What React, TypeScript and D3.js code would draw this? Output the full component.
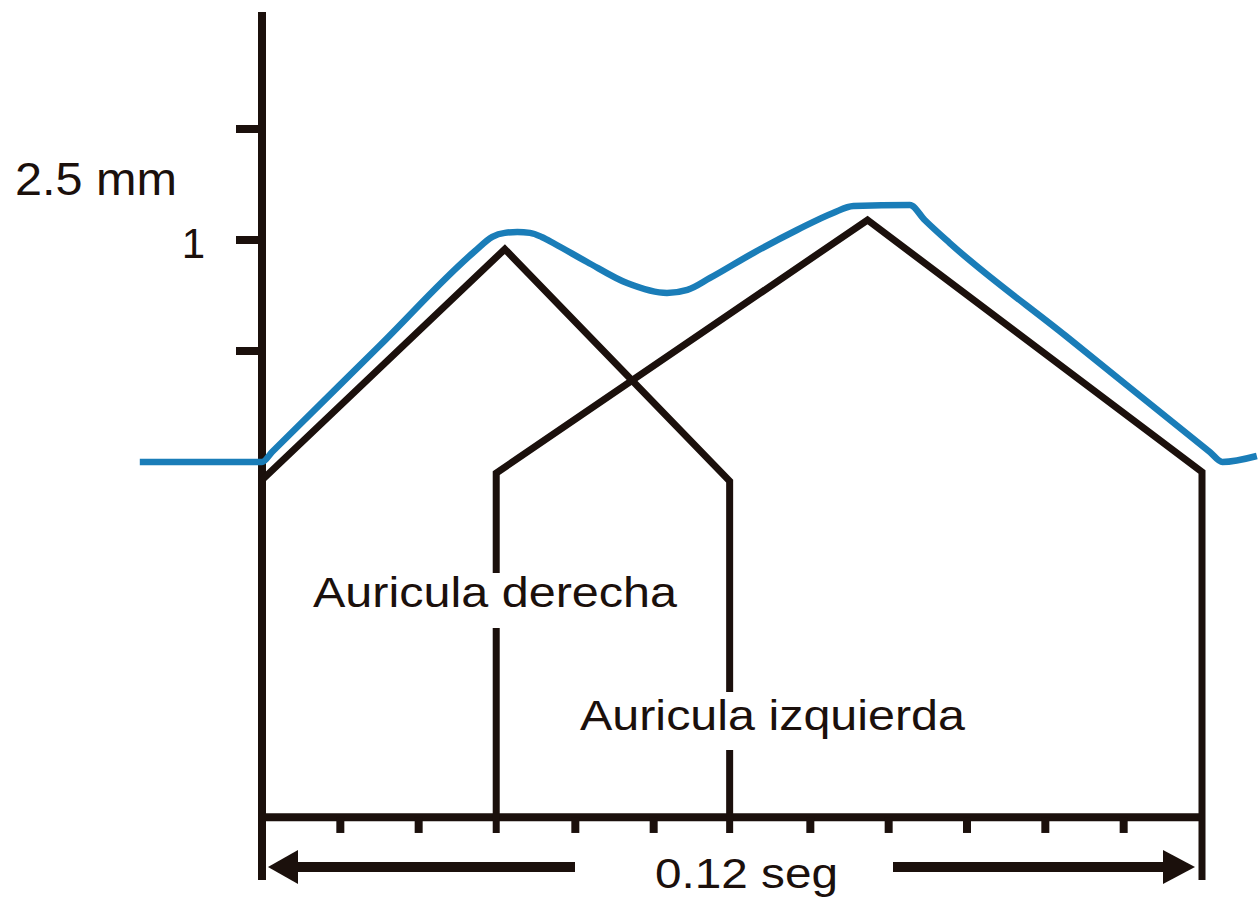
import React from "react";
import * as d3 from "d3";

// time in seconds (0 .. 0.12), amplitude in mm-units (baseline = 0)
const xTicks = [0.01, 0.02, 0.04, 0.05, 0.07, 0.08, 0.09, 0.1, 0.11];
const yTicks = [0.5, 1, 1.5];

const raT = [0, 0.031, 0.0597, 0.0597];
const raV = [-0.081, 0.959, -0.086, -1.671];

const laT = [0.0299, 0.0299, 0.0773, 0.12, 0.12];
const laV = [-1.671, -0.05, 1.09, -0.045, -1.883];

const sumT = [-0.0156, 0, 0.00128, 0.0151, 0.0272, 0.0294, 0.031, 0.0326, 0.0342, 0.0357, 0.0374, 0.0415, 0.0466, 0.0517, 0.0543, 0.0572, 0.0627, 0.0683, 0.0729, 0.0755, 0.0827, 0.0846, 0.0878, 0.1026, 0.1210, 0.1226, 0.1270];
const sumV = [0, 0, 0.045, 0.527, 0.95, 1.014, 1.032, 1.036, 1.032, 1.014, 0.982, 0.901, 0.806, 0.761, 0.775, 0.829, 0.941, 1.045, 1.122, 1.153, 1.158, 1.09, 0.986, 0.568, 0.045, 0, 0.027];

const yLabelTop = "2.5 mm";
const yLabelOne = "1";
const raLabel = "Auricula derecha";
const laLabel = "Auricula izquierda";
const xLabel = "0.12 seg";

const W = 1259;
const H = 908;
const INK = "#1b100c";
const BLUE = "#1a7db8";
const FONT = "Arial, 'Liberation Sans', Helvetica, sans-serif";

export default function App() {
  const x = d3.scaleLinear().domain([0, 0.12]).range([262, 1202]);
  const y = d3.scaleLinear().domain([0, 1]).range([462, 240]);

  const line = d3
    .line<[number, number]>()
    .x((d) => x(d[0]))
    .y((d) => y(d[1]));
  const smooth = d3
    .line<[number, number]>()
    .x((d) => x(d[0]))
    .y((d) => y(d[1]))
    .curve(d3.curveMonotoneX);

  const ra = raT.map((t, i) => [t, raV[i]] as [number, number]);
  const la = laT.map((t, i) => [t, laV[i]] as [number, number]);
  const sum = sumT.map((t, i) => [t, sumV[i]] as [number, number]);

  const axisTop = y(2.027);
  const axisBottom = y(-1.883);
  const baseY = y(-1.6);
  const tickEnd = y(-1.671);
  const arrowY = y(-1.824);

  const x0 = x(0);
  const x1 = x(0.12);

  return (
    <svg
      width={W}
      height={H}
      style={{ position: "absolute", left: 0, top: 0, display: "block", background: "#fff" }}
    >
      <rect x={0} y={0} width={W} height={H} fill="#fff" />
      {/* vertical axis */}
      <line x1={x0} y1={axisTop} x2={x0} y2={axisBottom} stroke={INK} strokeWidth={8} />
      {yTicks.map((v) => (
        <line key={v} x1={x0 - 26} x2={x0} y1={y(v)} y2={y(v)} stroke={INK} strokeWidth={8} />
      ))}
      {/* horizontal axis */}
      <line x1={x0} y1={baseY} x2={x1} y2={baseY} stroke={INK} strokeWidth={8} />
      {xTicks.map((t) => (
        <line key={t} x1={x(t)} x2={x(t)} y1={baseY} y2={tickEnd} stroke={INK} strokeWidth={8} />
      ))}

      {/* atrial components */}
      <path d={line(ra) || ""} fill="none" stroke={INK} strokeWidth={7} strokeLinejoin="miter" />
      <path d={line(la) || ""} fill="none" stroke={INK} strokeWidth={7} strokeLinejoin="miter" />

      {/* summed P wave */}
      <path d={smooth(sum) || ""} fill="none" stroke={BLUE} strokeWidth={6.5} strokeLinejoin="round" />

      {/* labels with white backing */}
      <rect x={x(0.0299) - 10} y={573} width={20} height={55} fill="#fff" />
      <text x={313} y={607} fontFamily={FONT} fontSize={42} fill={INK} textLength={364} lengthAdjust="spacingAndGlyphs">
        {raLabel}
      </text>
      <rect x={x(0.0597) - 10} y={692} width={20} height={58} fill="#fff" />
      <text x={580} y={730} fontFamily={FONT} fontSize={42} fill={INK} textLength={385} lengthAdjust="spacingAndGlyphs">
        {laLabel}
      </text>

      <text x={15} y={195} fontFamily={FONT} fontSize={46} fill={INK} textLength={162} lengthAdjust="spacingAndGlyphs">
        {yLabelTop}
      </text>
      <text x={205} y={258} fontFamily={FONT} fontSize={42} fill={INK} textAnchor="end">
        {yLabelOne}
      </text>

      {/* duration arrows */}
      <line x1={x0 + 30} x2={575} y1={arrowY} y2={arrowY} stroke={INK} strokeWidth={10} />
      <polygon
        points={`${x0 + 6},${arrowY} ${x0 + 36},${arrowY - 17} ${x0 + 36},${arrowY + 17}`}
        fill={INK}
      />
      <line x1={893} x2={x1 - 36} y1={arrowY} y2={arrowY} stroke={INK} strokeWidth={10} />
      <polygon
        points={`${x1 - 7},${arrowY} ${x1 - 39},${arrowY - 17} ${x1 - 39},${arrowY + 17}`}
        fill={INK}
      />
      <text x={655} y={888} fontFamily={FONT} fontSize={42} fill={INK} textLength={183} lengthAdjust="spacingAndGlyphs">
        {xLabel}
      </text>
    </svg>
  );
}
